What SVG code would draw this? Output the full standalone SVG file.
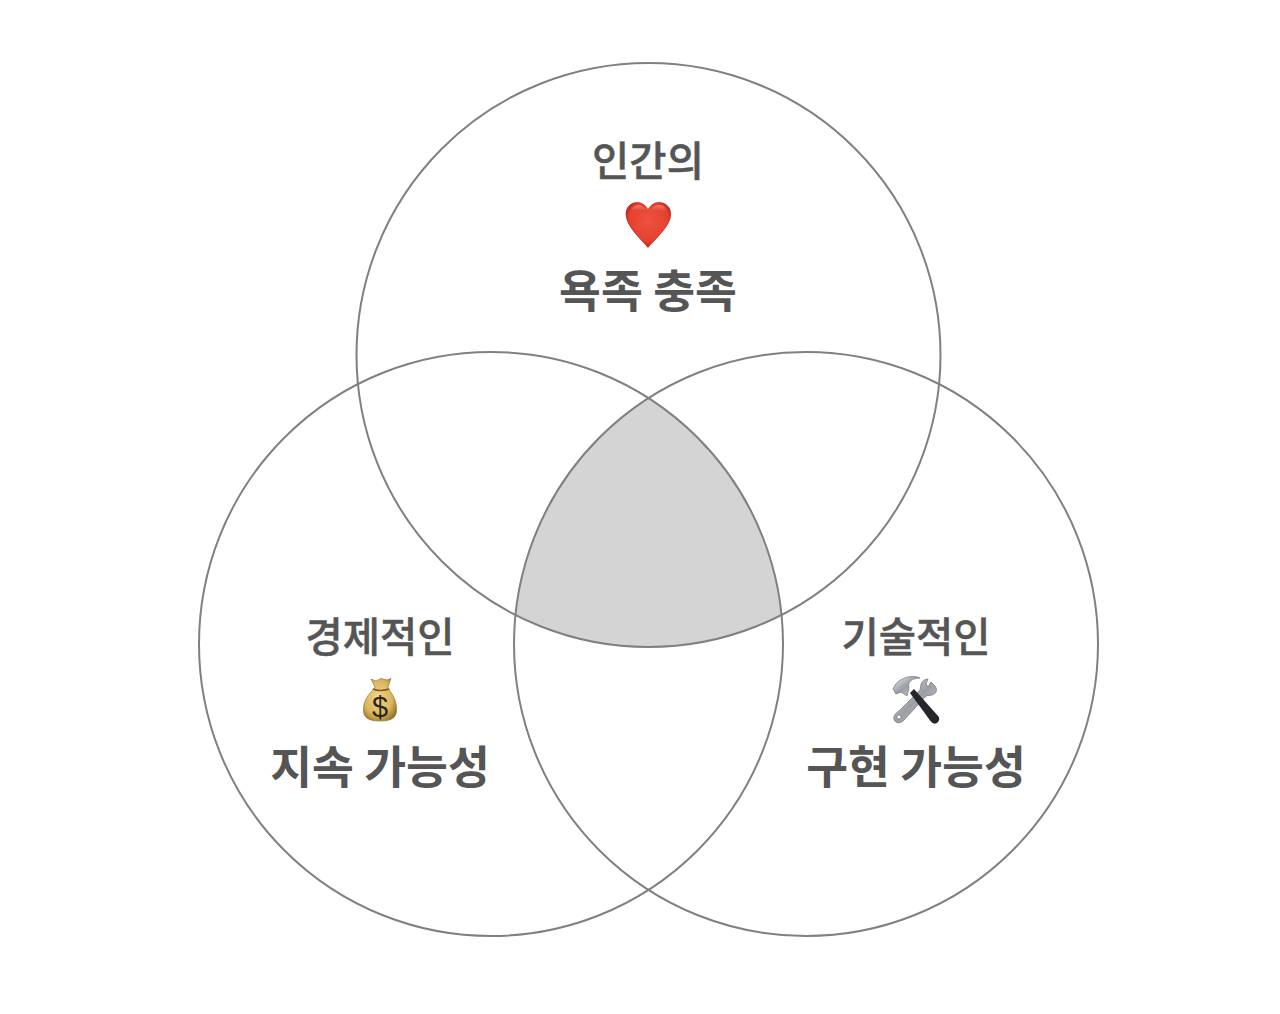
<svg xmlns="http://www.w3.org/2000/svg" width="1280" height="1014" viewBox="0 0 1280 1014">
<style>
.c{fill:none;stroke:#808080;stroke-width:2}
.t{font-family:"Noto Sans CJK KR","Noto Sans",sans-serif;fill:#555;text-anchor:middle}
.s{font-size:40.500px;font-weight:500;stroke:#555;stroke-width:.5px}
.b{font-size:45.500px;font-weight:700}
</style>
<defs>
<clipPath id="cT"><circle cx="648.5" cy="355" r="292"/></clipPath>
<clipPath id="cL" clip-path="url(#cT)"><circle cx="491" cy="644" r="292"/></clipPath>
<radialGradient id="hg" cx="50%" cy="42%" r="62%"><stop offset="0" stop-color="#ef5340"/><stop offset=".72" stop-color="#e5402f"/><stop offset="1" stop-color="#a91a12"/></radialGradient>
<linearGradient id="hs" x1="0" y1="0" x2="0" y2="1"><stop offset="0" stop-color="#f59a8a"/><stop offset="1" stop-color="#e8402f" stop-opacity="0"/></linearGradient>
<radialGradient id="bg" cx="45%" cy="45%" r="65%"><stop offset="0" stop-color="#f0d78c"/><stop offset=".65" stop-color="#d9b45c"/><stop offset="1" stop-color="#8f6d25"/></radialGradient>
<linearGradient id="mg" x1="0" y1="0" x2="1" y2="1"><stop offset="0" stop-color="#eceef1"/><stop offset=".5" stop-color="#9a9ea5"/><stop offset="1" stop-color="#d4d7dc"/></linearGradient>
</defs>
<rect width="1280" height="1014" fill="#fff"/>
<g id="center-overlap"><circle cx="806" cy="644" r="292" fill="#d4d4d4" clip-path="url(#cL)"/></g>
<g id="circle-human"><circle class="c" cx="648.5" cy="355" r="292"/>
<text class="t s" x="648" y="176">인간의</text>
<g id="icon-heart">
<path d="M648 247.5C640 238 626 226 626 214C626 207 631 202.500 637 202.500C642 202.500 646 205.500 648 210C650 205.500 654 202.500 659 202.500C665.500 202.500 670.700 207 670.700 214C670.700 226 656 238 648 247.500Z" fill="url(#hg)" stroke="#a3160f" stroke-width=".6"/>
<path d="M631 211C632 206 638 204 642 206C645 208 647 211 648 214C650 210 654 205 660 205C664 205 667 208 667 212C660 209 637 209 631 211Z" fill="url(#hs)" opacity=".7"/>
</g>
<text class="t b" x="648" y="308">욕족 충족</text></g>
<g id="circle-economic"><circle class="c" cx="491" cy="644" r="292"/>
<text class="t s" x="380" y="652">경제적인</text>
<g id="icon-money">
<path d="M371 679L376 681L381 678.500L387 680L391 678.500L388 687L390 691C395 698 397 704 396.500 711C396 718 391 721 380 721C369 721 364 718 363.500 711C363 704 366 697 372 691L375 687Z" fill="url(#bg)" stroke="#8a6a25" stroke-width=".6"/>
<path d="M373 689Q380 692 389 689" fill="none" stroke="#7a5c1e" stroke-width="1.500"/>
<text x="380" y="717" font-family="Liberation Sans,sans-serif" font-size="29" fill="#2b2620" text-anchor="middle">$</text>
</g>
<text class="t b" x="380" y="784">지속 가능성</text></g>
<g id="circle-technical"><circle class="c" cx="806" cy="644" r="292"/>
<text class="t s" x="916" y="652">기술적인</text>
<g id="icon-tools">
<path d="M931 682L935 686C938 690 936 694 932 695L926 696L905 719C902 723 897 724 895 721C892 718 895 713 899 711L920 690L921 684C922 681 925 679 928 679L926 684L928 687Z" fill="url(#mg)" stroke="#5c5f66" stroke-width=".6"/>
<circle cx="899" cy="717" r="2" fill="#fff" stroke="#666" stroke-width=".6"/>
<path d="M910 693L914 689L938.500 716.500C940 719 939 722 936 723.500C934 724 932 723 930.500 721Z" fill="#26262a"/>
<path d="M893 689L895 685C900 678 912 674 920 678C912 678 907 682 909 688L907 696L901 692L896 694Z" fill="url(#mg)" stroke="#5c5f66" stroke-width=".6"/>
</g>
<text class="t b" x="916" y="784">구현 가능성</text></g>
</svg>
